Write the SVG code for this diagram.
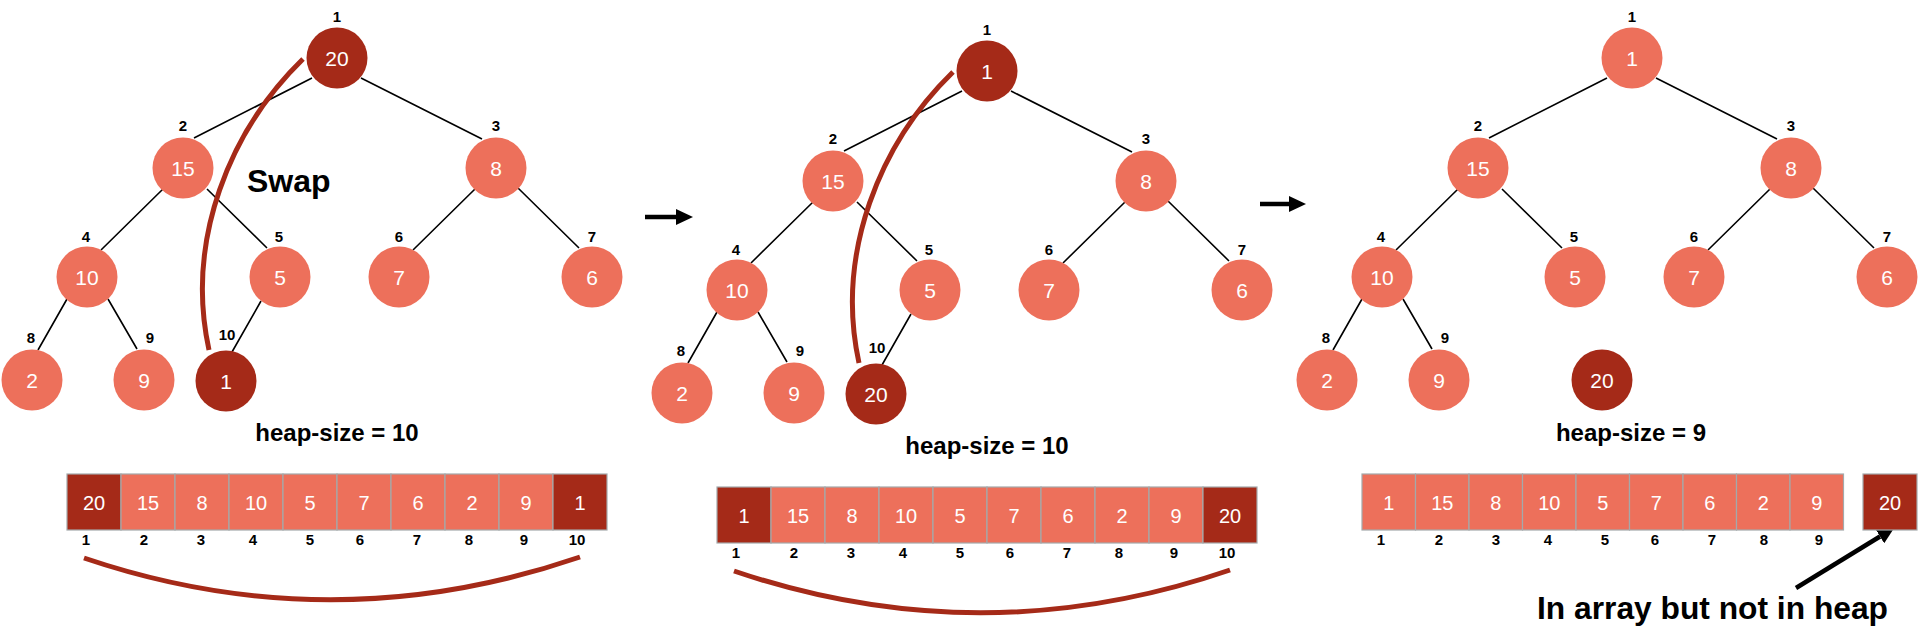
<svg xmlns="http://www.w3.org/2000/svg" width="1919" height="633" viewBox="0 0 1919 633">
<style>
text{font-family:"Liberation Sans",Arial,Helvetica,sans-serif}
.lt{fill:#ED705B}.dk{fill:#A52A18}
.v{fill:#fff;font-size:21px;text-anchor:middle}
.i{fill:#000;font-size:15px;font-weight:bold;text-anchor:middle}
.edge{stroke:#000;stroke-width:1.6;fill:none}
.swap{stroke:#A52A18;stroke-width:5;fill:none}
.cell{stroke:#A4A9AB;stroke-width:1.2}
.av{fill:#fff;font-size:20px;text-anchor:middle}
.hs{fill:#000;font-size:24px;font-weight:bold;text-anchor:middle}
.arr{stroke:#000;stroke-width:4.5;fill:none}
</style>
<defs>
<marker id="ah" viewBox="0 0 17 16" refX="0" refY="8" markerWidth="17" markerHeight="16" markerUnits="userSpaceOnUse" orient="auto">
<path d="M0,0 L17,8 L0,16 z" fill="#000"/>
</marker>
</defs>
<g id="connectors">
<path class="edge" d="M312,78L194,138M361,78L482,139M163,189L101,250M207,189L267,248M475,189L413,250M518,188L579,248M67,299L38,350M108,299L137,349M261,301L232,352"/>
<path class="edge" d="M962,91L844,151M1011,91L1132,152M813,202L751,263M857,202L917,261M1125,202L1063,263M1168,201L1229,261M717,312L688,363M758,312L787,362M911,314L882,365"/>
<path class="edge" d="M1607,78L1489,138M1656,78L1777,139M1458,189L1396,250M1502,189L1562,248M1770,189L1708,250M1813,188L1874,248M1362,299L1333,350M1403,299L1432,349"/>
<path class="swap" d="M303,59C230,130 185,240 209,350"/>
<path class="swap" d="M953,72C880,143 835,253 859,363"/>
<path class="swap" d="M84,558Q332,642 580,557"/>
<path class="swap" d="M734,571Q982,655 1230,570"/>
<path class="arr" d="M645,217H676" marker-end="url(#ah)"/>
<path class="arr" d="M1260,204H1289" marker-end="url(#ah)"/>
<path class="arr" stroke-width="4" d="M1796,588L1880,536.5" marker-end="url(#ah)"/>
</g>
<g id="p1-n1"><circle class="dk" cx="337" cy="58" r="30.5"/><text class="v" x="337" y="66">20</text><text class="i" x="337" y="22">1</text></g>
<g id="p1-n2"><circle class="lt" cx="183" cy="168" r="30.5"/><text class="v" x="183" y="176">15</text><text class="i" x="183" y="131">2</text></g>
<g id="p1-n3"><circle class="lt" cx="496" cy="168" r="30.5"/><text class="v" x="496" y="176">8</text><text class="i" x="496" y="131">3</text></g>
<g id="p1-n4"><circle class="lt" cx="87" cy="277" r="30.5"/><text class="v" x="87" y="285">10</text><text class="i" x="86" y="242">4</text></g>
<g id="p1-n5"><circle class="lt" cx="280" cy="277" r="30.5"/><text class="v" x="280" y="285">5</text><text class="i" x="279" y="242">5</text></g>
<g id="p1-n6"><circle class="lt" cx="399" cy="277" r="30.5"/><text class="v" x="399" y="285">7</text><text class="i" x="399" y="242">6</text></g>
<g id="p1-n7"><circle class="lt" cx="592" cy="277" r="30.5"/><text class="v" x="592" y="285">6</text><text class="i" x="592" y="242">7</text></g>
<g id="p1-n8"><circle class="lt" cx="32" cy="380" r="30.5"/><text class="v" x="32" y="388">2</text><text class="i" x="31" y="343">8</text></g>
<g id="p1-n9"><circle class="lt" cx="144" cy="380" r="30.5"/><text class="v" x="144" y="388">9</text><text class="i" x="150" y="343">9</text></g>
<g id="p1-n10"><circle class="dk" cx="226" cy="381" r="30.5"/><text class="v" x="226" y="389">1</text><text class="i" x="227" y="340">10</text></g>
<text id="swap-label" x="247" y="192" font-size="32" font-weight="bold" fill="#000">Swap</text>
<text class="hs" x="337" y="441">heap-size = 10</text>
<g id="p1-array">
<rect class="cell dk" x="67" y="474" width="54" height="56"/><rect class="cell lt" x="121" y="474" width="54" height="56"/><rect class="cell lt" x="175" y="474" width="54" height="56"/><rect class="cell lt" x="229" y="474" width="54" height="56"/><rect class="cell lt" x="283" y="474" width="54" height="56"/><rect class="cell lt" x="337" y="474" width="54" height="56"/><rect class="cell lt" x="391" y="474" width="54" height="56"/><rect class="cell lt" x="445" y="474" width="54" height="56"/><rect class="cell lt" x="499" y="474" width="54" height="56"/><rect class="cell dk" x="553" y="474" width="54" height="56"/>
<text class="av" x="94" y="510">20</text><text class="av" x="148" y="510">15</text><text class="av" x="202" y="510">8</text><text class="av" x="256" y="510">10</text><text class="av" x="310" y="510">5</text><text class="av" x="364" y="510">7</text><text class="av" x="418" y="510">6</text><text class="av" x="472" y="510">2</text><text class="av" x="526" y="510">9</text><text class="av" x="580" y="510">1</text>
<text class="i" x="86" y="545">1</text><text class="i" x="144" y="545">2</text><text class="i" x="201" y="545">3</text><text class="i" x="253" y="545">4</text><text class="i" x="310" y="545">5</text><text class="i" x="360" y="545">6</text><text class="i" x="417" y="545">7</text><text class="i" x="469" y="545">8</text><text class="i" x="524" y="545">9</text><text class="i" x="577" y="545">10</text>
</g>
<g id="p2-n1"><circle class="dk" cx="987" cy="71" r="30.5"/><text class="v" x="987" y="79">1</text><text class="i" x="987" y="35">1</text></g>
<g id="p2-n2"><circle class="lt" cx="833" cy="181" r="30.5"/><text class="v" x="833" y="189">15</text><text class="i" x="833" y="144">2</text></g>
<g id="p2-n3"><circle class="lt" cx="1146" cy="181" r="30.5"/><text class="v" x="1146" y="189">8</text><text class="i" x="1146" y="144">3</text></g>
<g id="p2-n4"><circle class="lt" cx="737" cy="290" r="30.5"/><text class="v" x="737" y="298">10</text><text class="i" x="736" y="255">4</text></g>
<g id="p2-n5"><circle class="lt" cx="930" cy="290" r="30.5"/><text class="v" x="930" y="298">5</text><text class="i" x="929" y="255">5</text></g>
<g id="p2-n6"><circle class="lt" cx="1049" cy="290" r="30.5"/><text class="v" x="1049" y="298">7</text><text class="i" x="1049" y="255">6</text></g>
<g id="p2-n7"><circle class="lt" cx="1242" cy="290" r="30.5"/><text class="v" x="1242" y="298">6</text><text class="i" x="1242" y="255">7</text></g>
<g id="p2-n8"><circle class="lt" cx="682" cy="393" r="30.5"/><text class="v" x="682" y="401">2</text><text class="i" x="681" y="356">8</text></g>
<g id="p2-n9"><circle class="lt" cx="794" cy="393" r="30.5"/><text class="v" x="794" y="401">9</text><text class="i" x="800" y="356">9</text></g>
<g id="p2-n10"><circle class="dk" cx="876" cy="394" r="30.5"/><text class="v" x="876" y="402">20</text><text class="i" x="877" y="353">10</text></g>
<text class="hs" x="987" y="454">heap-size = 10</text>
<g id="p2-array">
<rect class="cell dk" x="717" y="487" width="54" height="56"/><rect class="cell lt" x="771" y="487" width="54" height="56"/><rect class="cell lt" x="825" y="487" width="54" height="56"/><rect class="cell lt" x="879" y="487" width="54" height="56"/><rect class="cell lt" x="933" y="487" width="54" height="56"/><rect class="cell lt" x="987" y="487" width="54" height="56"/><rect class="cell lt" x="1041" y="487" width="54" height="56"/><rect class="cell lt" x="1095" y="487" width="54" height="56"/><rect class="cell lt" x="1149" y="487" width="54" height="56"/><rect class="cell dk" x="1203" y="487" width="54" height="56"/>
<text class="av" x="744" y="523">1</text><text class="av" x="798" y="523">15</text><text class="av" x="852" y="523">8</text><text class="av" x="906" y="523">10</text><text class="av" x="960" y="523">5</text><text class="av" x="1014" y="523">7</text><text class="av" x="1068" y="523">6</text><text class="av" x="1122" y="523">2</text><text class="av" x="1176" y="523">9</text><text class="av" x="1230" y="523">20</text>
<text class="i" x="736" y="558">1</text><text class="i" x="794" y="558">2</text><text class="i" x="851" y="558">3</text><text class="i" x="903" y="558">4</text><text class="i" x="960" y="558">5</text><text class="i" x="1010" y="558">6</text><text class="i" x="1067" y="558">7</text><text class="i" x="1119" y="558">8</text><text class="i" x="1174" y="558">9</text><text class="i" x="1227" y="558">10</text>
</g>
<g id="p3-n1"><circle class="lt" cx="1632" cy="58" r="30.5"/><text class="v" x="1632" y="66">1</text><text class="i" x="1632" y="22">1</text></g>
<g id="p3-n2"><circle class="lt" cx="1478" cy="168" r="30.5"/><text class="v" x="1478" y="176">15</text><text class="i" x="1478" y="131">2</text></g>
<g id="p3-n3"><circle class="lt" cx="1791" cy="168" r="30.5"/><text class="v" x="1791" y="176">8</text><text class="i" x="1791" y="131">3</text></g>
<g id="p3-n4"><circle class="lt" cx="1382" cy="277" r="30.5"/><text class="v" x="1382" y="285">10</text><text class="i" x="1381" y="242">4</text></g>
<g id="p3-n5"><circle class="lt" cx="1575" cy="277" r="30.5"/><text class="v" x="1575" y="285">5</text><text class="i" x="1574" y="242">5</text></g>
<g id="p3-n6"><circle class="lt" cx="1694" cy="277" r="30.5"/><text class="v" x="1694" y="285">7</text><text class="i" x="1694" y="242">6</text></g>
<g id="p3-n7"><circle class="lt" cx="1887" cy="277" r="30.5"/><text class="v" x="1887" y="285">6</text><text class="i" x="1887" y="242">7</text></g>
<g id="p3-n8"><circle class="lt" cx="1327" cy="380" r="30.5"/><text class="v" x="1327" y="388">2</text><text class="i" x="1326" y="343">8</text></g>
<g id="p3-n9"><circle class="lt" cx="1439" cy="380" r="30.5"/><text class="v" x="1439" y="388">9</text><text class="i" x="1445" y="343">9</text></g>
<g id="p3-n10"><circle class="dk" cx="1602" cy="380" r="30.5"/><text class="v" x="1602" y="388">20</text></g>
<text class="hs" x="1631" y="441">heap-size = 9</text>
<g id="p3-array">
<rect class="cell lt" x="1362" y="474" width="53.5" height="56"/><rect class="cell lt" x="1415.5" y="474" width="53.5" height="56"/><rect class="cell lt" x="1469" y="474" width="53.5" height="56"/><rect class="cell lt" x="1522.5" y="474" width="53.5" height="56"/><rect class="cell lt" x="1576" y="474" width="53.5" height="56"/><rect class="cell lt" x="1629.5" y="474" width="53.5" height="56"/><rect class="cell lt" x="1683" y="474" width="53.5" height="56"/><rect class="cell lt" x="1736.5" y="474" width="53.5" height="56"/><rect class="cell lt" x="1790" y="474" width="53.5" height="56"/>
<rect class="cell dk" x="1863" y="474" width="54" height="56"/>
<text class="av" x="1388.75" y="510">1</text><text class="av" x="1442.25" y="510">15</text><text class="av" x="1495.75" y="510">8</text><text class="av" x="1549.25" y="510">10</text><text class="av" x="1602.75" y="510">5</text><text class="av" x="1656.25" y="510">7</text><text class="av" x="1709.75" y="510">6</text><text class="av" x="1763.25" y="510">2</text><text class="av" x="1816.75" y="510">9</text><text class="av" x="1890" y="510">20</text>
<text class="i" x="1381" y="545">1</text><text class="i" x="1439" y="545">2</text><text class="i" x="1496" y="545">3</text><text class="i" x="1548" y="545">4</text><text class="i" x="1605" y="545">5</text><text class="i" x="1655" y="545">6</text><text class="i" x="1712" y="545">7</text><text class="i" x="1764" y="545">8</text><text class="i" x="1819" y="545">9</text>
</g>
<text id="note" x="1537" y="619" font-size="31" font-weight="bold" fill="#000" textLength="351" lengthAdjust="spacingAndGlyphs">In array but not in heap</text>
</svg>
